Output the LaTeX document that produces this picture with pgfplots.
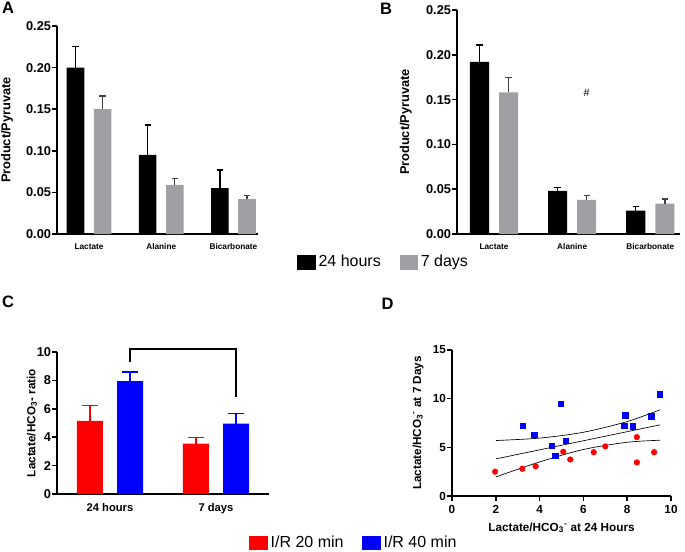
\documentclass[border=0pt]{standalone}
\usepackage{fontspec}
\setmainfont{Liberation Sans}
\usepackage{pgfplots}
\pgfplotsset{compat=1.18}

\definecolor{barGrey}{RGB}{160,160,164}

\pgfplotsset{
  prism/.style={
    scale only axis,
    anchor=south west,
    axis lines=left,
    axis line style={-, line width=1.1pt},
    tick align=outside,
    major tick length=3.5pt,
    tick style={line width=1.1pt, black},
    ticklabel style={font=\bfseries\fontsize{9.6}{11}\selectfont},
    yticklabel style={inner sep=0.8pt},
    /pgf/number format/assume math mode=true,
    clip=false,
  },
  sqlegend/.style={
    legend style={draw=none, fill=none, legend columns=2,
      font=\fontsize{12}{14}\selectfont,
      /tikz/every even column/.append style={column sep=12pt}},
    legend cell align=left,
    legend image code/.code={\fill[##1,draw=none] (0pt,-5.6pt) rectangle (14pt,5.6pt);},
  },
  errA/.style={error bars/.cd, y dir=plus, y explicit,
    error bar style={line width=1pt, #1},
    error mark options={rotate=90, mark size=2.4pt, line width=1pt, #1}},
  errC/.style={error bars/.cd, y dir=plus, y explicit,
    error bar style={line width=1.1pt, #1},
    error mark options={rotate=90, mark size=6pt, line width=1.1pt, #1}},
}

\begin{document}
\begin{tikzpicture}
\path[use as bounding box] (0,0) rectangle (513.75pt,413.25pt);

% ---------- A ----------
\begin{axis}[prism, sqlegend,
  at={(42.75pt,237.75pt)}, width=150.75pt, height=156pt,
  xmin=-0.444, xmax=2.34, ymin=0, ymax=0.25,
  ytick={0,0.05,0.10,0.15,0.20,0.25},
  yticklabel style={/pgf/number format/.cd, fixed, fixed zerofill, precision=2},
  xtick={0,1,2}, xticklabels={Lactate,Alanine,Bicarbonate},
  xticklabel style={font=\bfseries\fontsize{6.2}{7}\selectfont},
  x tick style={draw=none},
  ylabel={\bfseries Product/Pyruvate},
  ylabel style={font=\fontsize{9.6}{11}\selectfont, at={(axis description cs:-0.249,0.5)}, anchor=center},
  legend style={at={(1.174,-0.135)}, anchor=west},
]
\addplot[ybar, bar width=0.243, bar shift=0pt, fill=black, draw=none, errA={black}]
  coordinates {(-0.1875,0.200) +- (0,0.025) (0.8125,0.095) +- (0,0.036) (1.8125,0.055) +- (0,0.022)};
\addplot[ybar, bar width=0.243, bar shift=0pt, fill=barGrey, draw=none, errA={black!75}]
  coordinates {(0.1875,0.150) +- (0,0.016) (1.1875,0.059) +- (0,0.008) (2.1875,0.042) +- (0,0.004)};
\legend{24 hours, 7 days}
\end{axis}

% ---------- B ----------
\begin{axis}[prism,
  at={(342.75pt,237.75pt)}, width=167.25pt, height=168pt,
  xmin=-0.474, xmax=2.38, ymin=0, ymax=0.25,
  ytick={0,0.05,0.10,0.15,0.20,0.25},
  yticklabel style={/pgf/number format/.cd, fixed, fixed zerofill, precision=2},
  xtick={0,1,2}, xticklabels={Lactate,Alanine,Bicarbonate},
  xticklabel style={font=\bfseries\fontsize{6.2}{7}\selectfont},
  x tick style={draw=none},
  ylabel={\bfseries Product/Pyruvate},
  ylabel style={font=\fontsize{9.6}{11}\selectfont, at={(axis description cs:-0.229,0.5)}, anchor=center},
]
\addplot[ybar, bar width=0.244, bar shift=0pt, fill=black, draw=none, errA={black}]
  coordinates {(-0.186,0.192) +- (0,0.019) (0.814,0.048) +- (0,0.004) (1.814,0.026) +- (0,0.005)};
\addplot[ybar, bar width=0.244, bar shift=0pt, fill=barGrey, draw=none, errA={black!75}]
  coordinates {(0.186,0.158) +- (0,0.017) (1.186,0.038) +- (0,0.005) (2.186,0.034) +- (0,0.005)};
\node[font=\fontsize{8}{9}\selectfont] at (axis cs:1.186,0.157) {\#};
\end{axis}

% ---------- C ----------
\begin{axis}[prism, sqlegend,
  at={(42.75pt,42.75pt)}, width=159pt, height=106.5pt,
  xmin=-0.5, xmax=1.5, ymin=0, ymax=10,
  ytick={0,2,4,6,8,10},
  xtick={0,1}, xticklabels={24 hours,7 days},
  xticklabel style={font=\bfseries\fontsize{8.4}{10}\selectfont},
  x tick style={draw=none},
  ylabel={\bfseries Lactate/HCO\textsubscript{3}- ratio},
  ylabel style={font=\fontsize{8.8}{10}\selectfont, at={(axis description cs:-0.118,0.5)}, anchor=center},
  legend style={at={(0.887,-0.345)}, anchor=west},
  /tikz/every even column/.append style={column sep=40pt},
]
\addplot[ybar, bar width=0.245, bar shift=0pt, fill=red, draw=none, errC={red}]
  coordinates {(-0.19,5.15) +- (0,1.1) (0.81,3.55) +- (0,0.42)};
\addplot[ybar, bar width=0.245, bar shift=0pt, fill=blue, draw=none, errC={blue}]
  coordinates {(0.19,7.95) +- (0,0.65) (1.19,4.95) +- (0,0.72)};
\legend{I/R 20 min, I/R 40 min}
\addplot[black, line width=1.5pt, forget plot]
  coordinates {(0.19,9.3) (0.19,10.22) (1.19,10.22) (1.19,6.83)};
\end{axis}

% ---------- D ----------
\begin{axis}[prism,
  at={(339pt,41.25pt)}, width=164.25pt, height=109.5pt,
  xmin=0, xmax=10, ymin=0, ymax=15,
  xtick={0,2,4,6,8,10}, ytick={0,5,10,15},
  ticklabel style={font=\bfseries\fontsize{8.8}{10}\selectfont},
  xlabel={\bfseries Lactate/HCO\textsubscript{3}\textsuperscript{-} at 24 Hours},
  xlabel style={font=\fontsize{8.8}{10}\selectfont, at={(axis description cs:0.5,-0.219)}, anchor=center},
  ylabel={\bfseries Lactate/HCO\textsubscript{3}\textsuperscript{-} at 7 Days},
  ylabel style={font=\fontsize{8.8}{10}\selectfont, at={(axis description cs:-0.155,0.5)}, anchor=center},
]
% confidence band and fit
\addplot[black, line width=0.5pt, smooth] coordinates {(2,5.70) (4,5.95) (6,6.55) (8,7.65) (9.5,8.86)};
\addplot[black, line width=0.5pt] coordinates {(2,3.81) (9.5,7.31)};
\addplot[black, line width=0.5pt, smooth] coordinates {(2,1.96) (4,3.50) (6,4.78) (8,5.52) (9.5,5.73)};
% I/R 20 min
\addplot[only marks, mark=*, mark size=2.1pt, red, mark options={draw=none, fill=red}] coordinates {
  (1.97,2.50) (3.21,2.80) (3.82,3.05) (5.08,4.55) (5.40,3.75)
  (6.47,4.50) (7.00,5.10) (8.44,6.05) (8.44,3.45) (9.23,4.50)};
% I/R 40 min
\addplot[only marks, mark=square*, mark size=2pt, blue, mark options={draw=none, fill=blue}] coordinates {
  (3.24,7.25) (3.76,6.30) (4.55,5.15) (4.71,4.10) (4.97,9.47) (5.18,5.67)
  (7.86,7.25) (7.91,8.30) (8.26,7.17) (9.10,8.20) (9.50,10.44)};
\end{axis}

% panel letters
\node[font=\bfseries\fontsize{12.4}{14}\selectfont] at (6pt,407.6pt) {A};
\node[font=\bfseries\fontsize{12.4}{14}\selectfont] at (289.5pt,407pt) {B};
\node[font=\bfseries\fontsize{12.4}{14}\selectfont] at (6pt,186.75pt) {C};
\node[font=\bfseries\fontsize{12.4}{14}\selectfont] at (290.6pt,185.6pt) {D};
\end{tikzpicture}
\end{document}
